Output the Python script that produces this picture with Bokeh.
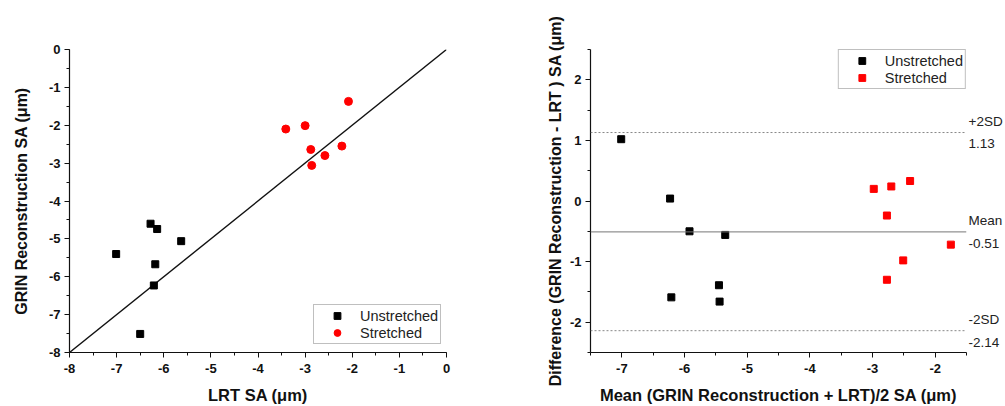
from bokeh.plotting import figure
from bokeh.layouts import row
from bokeh.models import (Span, Legend, LegendItem, SingleIntervalTicker, FixedTicker,
                          LinearAxis, NumeralTickFormatter)
from bokeh.embed import file_html
from bokeh.resources import INLINE

# ---- data: left (GRIN vs LRT) ----
lrt_unstretched = [-7.01, -6.28, -6.14, -5.63, -6.18, -6.21, -6.50]
grin_unstretched = [-5.40, -4.60, -4.74, -5.06, -5.67, -6.23, -7.51]
lrt_stretched = [-3.41, -3.00, -2.88, -2.86, -2.58, -2.22, -2.08]
grin_stretched = [-2.10, -2.01, -2.64, -3.06, -2.80, -2.55, -1.37]

# ---- data: right (Bland-Altman) ----
mean_unstretched = [-7.01, -6.23, -5.92, -5.35, -6.21, -5.45, -5.44]
diff_unstretched = [1.02, 0.04, -0.50, -0.56, -1.59, -1.39, -1.66]
mean_stretched = [-2.98, -2.70, -2.40, -2.77, -1.75, -2.51, -2.77]
diff_stretched = [0.20, 0.24, 0.33, -0.24, -0.72, -0.98, -1.30]

bias_mean = -0.51
upper_sd = 1.13
lower_sd = -2.14
limit_names = ["+2SD", "Mean", "-2SD"]
limit_values = [upper_sd, bias_mean, lower_sd]
series_names = ["Unstretched", "Stretched"]

FONT = "Liberation Sans"
INK = "#111111"


def style(p, title_x, title_y, ysize):
    p.grid.visible = False
    p.outline_line_color = None
    p.background_fill_color = "white"
    for ax in (p.xaxis[0], p.yaxis[0]):
        ax.axis_line_color = INK
        ax.axis_line_width = 1.2
        ax.major_tick_line_color = INK
        ax.minor_tick_line_color = INK
        ax.major_tick_out = 5
        ax.major_tick_in = 0
        ax.minor_tick_out = 3
        ax.minor_tick_in = 0
        ax.major_label_text_font = FONT
        ax.major_label_text_font_style = "bold"
        ax.major_label_text_font_size = "13px"
        ax.major_label_text_color = INK
        ax.axis_label_text_font = FONT
        ax.axis_label_text_font_style = "bold"
        ax.axis_label_text_color = INK
        ax.ticker = SingleIntervalTicker(interval=1, num_minor_ticks=2)
        ax.formatter = NumeralTickFormatter(format="0")
    p.xaxis[0].major_label_standoff = 6
    p.yaxis[0].major_label_standoff = 4
    p.xaxis[0].axis_label = title_x
    p.yaxis[0].axis_label = title_y
    p.xaxis[0].axis_label_text_font_size = "16.5px"
    p.yaxis[0].axis_label_text_font_size = ysize
    p.xaxis[0].axis_label_standoff = 10


def legend_for(p, items, loc):
    lg = Legend(items=items, location=loc)
    lg.margin = 0
    lg.padding = 2
    lg.spacing = 0
    lg.label_height = 17
    lg.glyph_height = 17
    lg.glyph_width = 42
    lg.label_standoff = 2
    lg.label_text_font = FONT
    lg.label_text_font_size = "14.5px"
    lg.label_text_color = "#222222"
    lg.border_line_color = "#808080"
    lg.border_line_width = 1.5
    lg.background_fill_alpha = 1
    p.add_layout(lg, "center")


# ---------------- left figure ----------------
p1 = figure(width=500, height=406, x_range=(-8, 0), y_range=(-8, 0),
            output_backend="svg", toolbar_location=None,
            min_border_left=69, min_border_right=54, min_border_top=49, min_border_bottom=53)
style(p1, "LRT SA (\u03bcm)", "GRIN Reconstruction SA (\u03bcm)", "16px")
p1.yaxis[0].axis_label_standoff = 16

p1.line(x=[-8, 0], y=[-8, 0], line_color=INK, line_width=1.4)
r1 = p1.scatter(x=lrt_unstretched, y=grin_unstretched, marker="square", size=7,
                fill_color="black", line_color="black")
r2 = p1.scatter(x=lrt_stretched, y=grin_stretched, marker="circle", size=8,
                fill_color="#ff0000", line_color="#ff0000")
legend_for(p1, [LegendItem(label=series_names[0], renderers=[r1]),
                LegendItem(label=series_names[1], renderers=[r2])], (244, 8))

# ---------------- right figure ----------------
p2 = figure(width=505, height=406, x_range=(-7.5, -1.5), y_range=(-2.5, 2.5),
            output_backend="svg", toolbar_location=None,
            min_border_left=90, min_border_right=38, min_border_top=49, min_border_bottom=53)
style(p2, "Mean (GRIN Reconstruction + LRT)/2 SA (\u03bcm)",
      "Difference (GRIN Reconstruction - LRT ) SA (\u03bcm)", "16px")
p2.yaxis[0].axis_label_standoff = 3

p2.add_layout(Span(location=upper_sd, dimension="width", line_color="#888888",
                   line_width=1, line_dash="2 2"))
p2.add_layout(Span(location=lower_sd, dimension="width", line_color="#888888",
                   line_width=1, line_dash="2 2"))
p2.add_layout(Span(location=bias_mean, dimension="width", line_color="#777777",
                   line_width=1))

r3 = p2.scatter(x=mean_unstretched, y=diff_unstretched, marker="square", size=7,
                fill_color="black", line_color="black")
r4 = p2.scatter(x=mean_stretched, y=diff_stretched, marker="square", size=7,
                fill_color="#ff0000", line_color="#ff0000")
legend_for(p2, [LegendItem(label=series_names[0], renderers=[r3]),
                LegendItem(label=series_names[1], renderers=[r4])], "top_right")

# annotations of the limit lines, drawn as a label-only axis on the right:
# name just above each line, value just below it
half_gap = 11.5 / (304 / 5.0)  # 11.5 px expressed in data units of the y range
ticks = []
overrides = {}
for name, v in zip(limit_names, limit_values):
    above = round(v + half_gap, 4)
    below = round(v - half_gap, 4)
    ticks += [above, below]
    overrides[above] = name
    overrides[below] = f"{v:.2f}"
rax = LinearAxis(ticker=FixedTicker(ticks=ticks), major_label_overrides=overrides)
rax.axis_line_color = None
rax.major_tick_line_color = None
rax.minor_tick_line_color = None
rax.major_tick_out = 0
rax.major_tick_in = 0
rax.major_label_standoff = 2
rax.major_label_text_font = FONT
rax.major_label_text_font_size = "13.5px"
rax.major_label_text_color = "#222222"
p2.add_layout(rax, "right")

layout = row(p1, p2)
open("out.html", "w").write(file_html(layout, INLINE))
